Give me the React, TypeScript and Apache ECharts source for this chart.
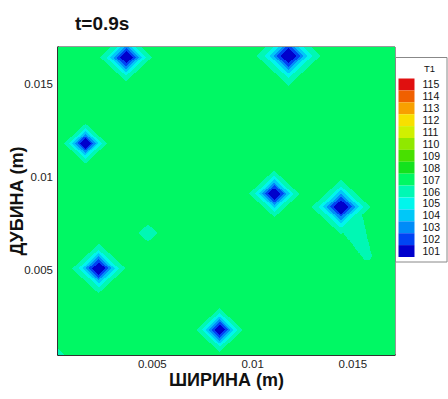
import React, { useEffect, useRef } from 'react';
import * as echarts from 'echarts';

const FONT = '"Liberation Sans", Arial, Helvetica, sans-serif';

// Contour levels and legend colours (Tecplot-like rainbow)
const LEVELS = [101, 102, 103, 104, 105, 106, 107, 108, 109, 110, 111, 112, 113, 114, 115];
const LEVEL_COLORS = [
  '#0000cc', '#0044f4', '#008cf8', '#00c8f8', '#00f6ec', '#00f8b4', '#00f864',
  '#14e21e', '#48e000', '#90e800', '#d0f000', '#f8e000', '#f8a000', '#f06000', '#e01010',
];

// Axis extents and ticks (m)
const X_MIN = 0.0003;
const X_MAX = 0.0171;
const Y_MIN = 0.0004;
const Y_MAX = 0.017;
const X_TICKS = [0.001, 0.002, 0.003, 0.004, 0.005, 0.006, 0.007, 0.008, 0.009, 0.01, 0.011, 0.012, 0.013, 0.014, 0.015, 0.016, 0.017];
const Y_TICKS = [0.001, 0.002, 0.003, 0.004, 0.005, 0.006, 0.007, 0.008, 0.009, 0.01, 0.011, 0.012, 0.013, 0.014, 0.015, 0.016];
const X_LABELS = [0.005, 0.01, 0.015];
const Y_LABELS = [0.005, 0.01, 0.015];

// Cold spots: centre (m), centre temperature, spread (m)
const SPOT_X = [0.00371, 0.01182, 0.00167, 0.01112, 0.01445, 0.00233, 0.00838, 0.0048, 0.0003];
const SPOT_Y = [0.01647, 0.01655, 0.01183, 0.00911, 0.00841, 0.00509, 0.00178, 0.007, 0.0004];
const SPOT_TC = [100.3, 100.3, 100.3, 100.3, 100.3, 100.3, 100.3, 106.0, 105.9];
const SPOT_S = [0.00082, 0.001, 0.00068, 0.0008, 0.00094, 0.00084, 0.00075, 0.0007, 0.0005];

// Cool trail below the right-hand spot: start/end point, temperature, spread
const TRAIL_X = [0.01495, 0.01575];
const TRAIL_Y = [0.00755, 0.00577];
const TRAIL_TC = [105.7, 106.0];
const TRAIL_S = [0.00075, 0.00033];

const T_BACKGROUND = 107.2;
const PROFILE_POWER = 1.8;
const CELL = 0.00005;

function temperatureAt(x: number, y: number): number {
  let t = T_BACKGROUND;
  for (let k = 0; k < SPOT_X.length; k++) {
    const d = (Math.abs(x - SPOT_X[k]) + Math.abs(y - SPOT_Y[k])) / SPOT_S[k];
    const v = T_BACKGROUND - (T_BACKGROUND - SPOT_TC[k]) * Math.exp(-Math.pow(d, PROFILE_POWER));
    if (v < t) t = v;
  }
  const ax = TRAIL_X[1] - TRAIL_X[0];
  const ay = TRAIL_Y[1] - TRAIL_Y[0];
  let u = ((x - TRAIL_X[0]) * ax + (y - TRAIL_Y[0]) * ay) / (ax * ax + ay * ay);
  u = Math.max(0, Math.min(1, u));
  const px = TRAIL_X[0] + u * ax;
  const py = TRAIL_Y[0] + u * ay;
  const tc = TRAIL_TC[0] + u * (TRAIL_TC[1] - TRAIL_TC[0]);
  const s = TRAIL_S[0] + u * (TRAIL_S[1] - TRAIL_S[0]);
  const dd = Math.hypot(x - px, y - py) / s;
  const vt = T_BACKGROUND - (T_BACKGROUND - tc) * Math.exp(-dd * dd);
  if (vt < t) t = vt;
  return t;
}

function bandOf(t: number): number {
  const b = Math.round(t);
  return Math.max(LEVELS[0], Math.min(LEVELS[LEVELS.length - 1], b));
}

// Runs of equal contour band along each row: [x0, x1, yCentre, level]
const RUNS: number[][] = [];
(function buildRuns() {
  const nx = Math.round((X_MAX - X_MIN) / CELL);
  const ny = Math.round((Y_MAX - Y_MIN) / CELL);
  for (let j = 0; j < ny; j++) {
    const y = Y_MIN + (j + 0.5) * CELL;
    let start = 0;
    let cur = bandOf(temperatureAt(X_MIN + 0.5 * CELL, y));
    for (let i = 1; i <= nx; i++) {
      const b = i < nx ? bandOf(temperatureAt(X_MIN + (i + 0.5) * CELL, y)) : -1;
      if (b !== cur) {
        RUNS.push([X_MIN + start * CELL, X_MIN + i * CELL, y, cur]);
        start = i;
        cur = b;
      }
    }
  }
})();

export default function App() {
  const ref = useRef<HTMLDivElement>(null);
  useEffect(() => {
    if (!ref.current) return;
    const chart = echarts.init(ref.current, null, { renderer: 'svg' });
    chart.setOption({
      animation: false,
      backgroundColor: '#ffffff',
      title: {
        text: 't=0.9s',
        left: 70,
        top: 9,
        textStyle: { fontFamily: FONT, fontSize: 19, fontWeight: 'bold', color: '#111' },
      },
      grid: {
        left: 58,
        top: 47,
        right: 53,
        bottom: 44,
        outerBoundsMode: 'none',
        containLabel: false,
        show: true,
        borderColor: '#333',
        borderWidth: 1,
        backgroundColor: 'transparent',
      },
      xAxis: {
        type: 'value',
        min: X_MIN,
        max: X_MAX,
        name: 'ШИРИНА (m)',
        nameLocation: 'middle',
        nameGap: 16,
        nameMoveOverlap: false,
        nameTextStyle: {
          fontFamily: FONT,
          fontSize: 18,
          lineHeight: 18,
          fontWeight: 'bold',
          color: '#111',
          verticalAlign: 'top',
        },
        axisLine: { show: true, onZero: false, lineStyle: { color: '#111', width: 1.5 } },
        axisTick: { show: true, inside: true, length: 5, customValues: X_TICKS, lineStyle: { color: '#222' } },
        axisLabel: {
          customValues: X_LABELS,
          fontFamily: FONT,
          fontSize: 11.5,
          lineHeight: 12,
          color: '#222',
          margin: 3,
          formatter: (v: number) => String(v),
        },
        splitLine: { show: false },
      },
      yAxis: {
        type: 'value',
        min: Y_MIN,
        max: Y_MAX,
        name: 'ДУБИНА (m)',
        nameLocation: 'middle',
        nameGap: 32,
        nameMoveOverlap: false,
        nameTextStyle: { fontFamily: FONT, fontSize: 18, fontWeight: 'bold', color: '#111' },
        axisLine: { show: true, onZero: false, lineStyle: { color: '#111', width: 1.5 } },
        axisTick: { show: true, inside: true, length: 5, customValues: Y_TICKS, lineStyle: { color: '#222' } },
        axisLabel: {
          customValues: Y_LABELS,
          fontFamily: FONT,
          fontSize: 11.5,
          color: '#222',
          margin: 5,
          formatter: (v: number) => String(v),
        },
        splitLine: { show: false },
      },
      visualMap: {
        type: 'piecewise',
        dimension: 3,
        seriesIndex: 0,
        pieces: LEVELS.map((v, i) => ({ value: v, label: String(v), color: LEVEL_COLORS[i] })),
        orient: 'vertical',
        left: 395,
        top: 57,
        align: 'left',
        itemWidth: 16,
        itemHeight: 11.9,
        itemGap: 0,
        textGap: 8,
        itemSymbol: 'rect',
        selectedMode: false,
        padding: [21, 7, 5, 3],
        backgroundColor: '#ffffff',
        borderColor: '#888',
        borderWidth: 1,
        textStyle: { fontFamily: FONT, fontSize: 10.5, color: '#111' },
      },
      graphic: [
        {
          type: 'text',
          left: 424,
          top: 63,
          z: 100,
          style: { text: 'T1', font: `9.5px ${FONT}`, fill: '#111' },
        },
      ],
      series: [
        {
          type: 'custom',
          coordinateSystem: 'cartesian2d',
          silent: true,
          clip: true,
          encode: { x: [0, 1], y: 2 },
          data: RUNS,
          renderItem: (params: any, api: any) => {
            const x0 = api.value(0);
            const x1 = api.value(1);
            const y = api.value(2);
            const p0 = api.coord([x0, y + CELL / 2]);
            const p1 = api.coord([x1, y - CELL / 2]);
            const left = Math.floor(p0[0]);
            const top = Math.floor(p0[1]);
            const right = Math.ceil(p1[0]);
            const bottom = Math.ceil(p1[1]);
            return {
              type: 'rect',
              shape: { x: left, y: top, width: right - left, height: bottom - top },
              style: { fill: api.visual('color') },
            };
          },
        },
      ],
    });
    return () => chart.dispose();
  }, []);
  return <div ref={ref} style={{ width: 448, height: 399, position: 'absolute', left: 0, top: 0 }} />;
}
